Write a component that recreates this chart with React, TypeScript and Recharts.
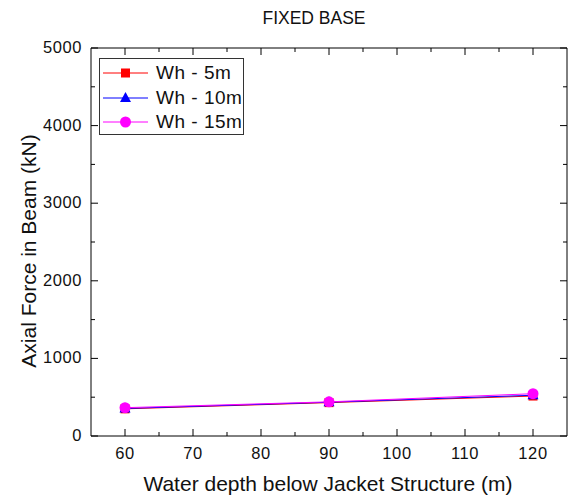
import { LineChart, Line, XAxis, YAxis, Legend } from 'recharts';

const depths = [60, 90, 120];
const wh5 = [350, 430, 515];
const wh10 = [355, 435, 525];
const wh15 = [365, 440, 545];
const xTicks = [60, 65, 70, 75, 80, 85, 90, 95, 100, 105, 110, 115, 120];
const yTicks = [0, 500, 1000, 1500, 2000, 2500, 3000, 3500, 4000, 4500, 5000];

const data = depths.map((d, i) => ({ depth: d, wh5: wh5[i], wh10: wh10[i], wh15: wh15[i] }));

const FONT = '"Liberation Sans", Arial, sans-serif';
const MAJOR = 7;
const MINOR = 4;

const series = [
    { key: 'wh5', name: 'Wh - 5m', color: '#ff0000', shape: 'square' },
    { key: 'wh10', name: 'Wh - 10m', color: '#0000ff', shape: 'triangle' },
    { key: 'wh15', name: 'Wh - 15m', color: '#ff00ff', shape: 'circle' },
];

function Marker({ cx, cy, shape, color }: { cx: number; cy: number; shape: string; color: string }) {
    if (shape === 'square') return <rect x={cx - 4.5} y={cy - 4.5} width={9} height={9} fill={color} />;
    if (shape === 'triangle')
        return <polygon points={`${cx},${cy - 6} ${cx - 5.5},${cy + 4} ${cx + 5.5},${cy + 4}`} fill={color} />;
    return <circle cx={cx} cy={cy} r={5.5} fill={color} />;
}

const BottomTick = (props: any) => {
    const { x, y, payload } = props;
    const major = payload.value % 10 === 0;
    return (
        <g>
            <line x1={x} x2={x} y1={y} y2={y - (major ? MAJOR : MINOR)} stroke="#000" />
            {major && (
                <text x={x} y={y + 23} textAnchor="middle" fontSize={16.5} fontFamily={FONT} fill="#111" letterSpacing={0.6}>
                    {payload.value}
                </text>
            )}
        </g>
    );
};

const TopTick = (props: any) => {
    const { x, y, payload } = props;
    const major = payload.value % 10 === 0;
    return <line x1={x} x2={x} y1={y} y2={y + (major ? MAJOR : MINOR)} stroke="#000" />;
};

const LeftTick = (props: any) => {
    const { x, y, payload } = props;
    const major = payload.value % 1000 === 0;
    return (
        <g>
            <line x1={x} x2={x + (major ? MAJOR : MINOR)} y1={y} y2={y} stroke="#000" />
            {major && (
                <text x={x - 9} y={y} dy="0.3em" textAnchor="end" fontSize={16.5} fontFamily={FONT} fill="#111" letterSpacing={0.6}>
                    {payload.value}
                </text>
            )}
        </g>
    );
};

const RightTick = (props: any) => {
    const { x, y, payload } = props;
    const major = payload.value % 1000 === 0;
    return <line x1={x} x2={x - (major ? MAJOR : MINOR)} y1={y} y2={y} stroke="#000" />;
};

const renderLegend = () => (
    <div
        style={{
            border: '1px solid #333',
            background: '#fff',
            width: 145,
            height: 77,
            boxSizing: 'border-box',
            paddingTop: 2,
        }}
    >
        {series.map((s) => (
            <div key={s.key} style={{ display: 'flex', alignItems: 'center', height: 24.5 }}>
                <svg width={56} height={20} style={{ display: 'block' }}>
                    <line x1={3} x2={48} y1={10} y2={10} stroke={s.color} />
                    <Marker cx={25.5} cy={10} shape={s.shape} color={s.color} />
                </svg>
                <span style={{ fontFamily: FONT, fontSize: 19, color: '#111', lineHeight: '20px', letterSpacing: 0.5 }}>{s.name}</span>
            </div>
        ))}
    </div>
);

export default function App() {
    return (
        <div style={{ position: 'absolute', left: 0, top: 0, width: 571, height: 498, background: '#fff' }}>
            <LineChart width={571} height={498} data={data} margin={{ top: 47, right: 3, bottom: 0, left: 0 }}>
                <XAxis
                    dataKey="depth"
                    type="number"
                    domain={[55, 125]}
                    ticks={xTicks}
                    interval={0}
                    height={62}
                    tickSize={0}
                    tickMargin={0}
                    tick={BottomTick}
                    axisLine={{ stroke: '#000' }}
                    tickLine={false}
                    allowDataOverflow
                />
                <XAxis
                    xAxisId="top"
                    orientation="top"
                    dataKey="depth"
                    type="number"
                    domain={[55, 125]}
                    ticks={xTicks}
                    interval={0}
                    height={1}
                    tickSize={0}
                    tickMargin={0}
                    tick={TopTick}
                    axisLine={{ stroke: '#000' }}
                    tickLine={false}
                    allowDataOverflow
                />
                <YAxis
                    type="number"
                    domain={[0, 5000]}
                    ticks={yTicks}
                    interval={0}
                    width={91}
                    tickSize={0}
                    tickMargin={0}
                    tick={LeftTick}
                    axisLine={{ stroke: '#000' }}
                    tickLine={false}
                    allowDataOverflow
                />
                <YAxis
                    yAxisId="right"
                    orientation="right"
                    type="number"
                    domain={[0, 5000]}
                    ticks={yTicks}
                    interval={0}
                    width={1}
                    tickSize={0}
                    tickMargin={0}
                    tick={RightTick}
                    axisLine={{ stroke: '#000' }}
                    tickLine={false}
                    allowDataOverflow
                />
                <Legend
                    layout="horizontal"
                    verticalAlign="middle"
                    align="center"
                    content={renderLegend}
                    wrapperStyle={{ position: 'absolute', left: 99, top: 58, width: 145, height: 77 }}
                />
                {series.map((s) => (
                    <Line
                        key={s.key}
                        dataKey={s.key}
                        name={s.name}
                        stroke={s.color}
                        strokeWidth={1}
                        isAnimationActive={false}
                        dot={(p: any) => <Marker key={`${s.key}-${p.index}`} cx={p.cx} cy={p.cy} shape={s.shape} color={s.color} />}
                        activeDot={false}
                    />
                ))}
            </LineChart>
            <div
                style={{
                    position: 'absolute',
                    left: 314,
                    top: 18,
                    transform: 'translate(-50%, -50%)',
                    fontFamily: FONT,
                    fontSize: 17.5,
                    color: '#111',
                    whiteSpace: 'nowrap',
                }}
            >
                FIXED BASE
            </div>
            <div
                style={{
                    position: 'absolute',
                    left: 328,
                    top: 484,
                    transform: 'translate(-50%, -50%)',
                    fontFamily: FONT,
                    fontSize: 21,
                    color: '#111',
                    whiteSpace: 'nowrap',
                }}
            >
                Water depth below Jacket Structure (m)
            </div>
            <div
                style={{
                    position: 'absolute',
                    left: 29,
                    top: 251,
                    transform: 'translate(-50%, -50%) rotate(-90deg)',
                    fontFamily: FONT,
                    fontSize: 21,
                    color: '#111',
                    whiteSpace: 'nowrap',
                }}
            >
                Axial Force in Beam (kN)
            </div>
        </div>
    );
}
